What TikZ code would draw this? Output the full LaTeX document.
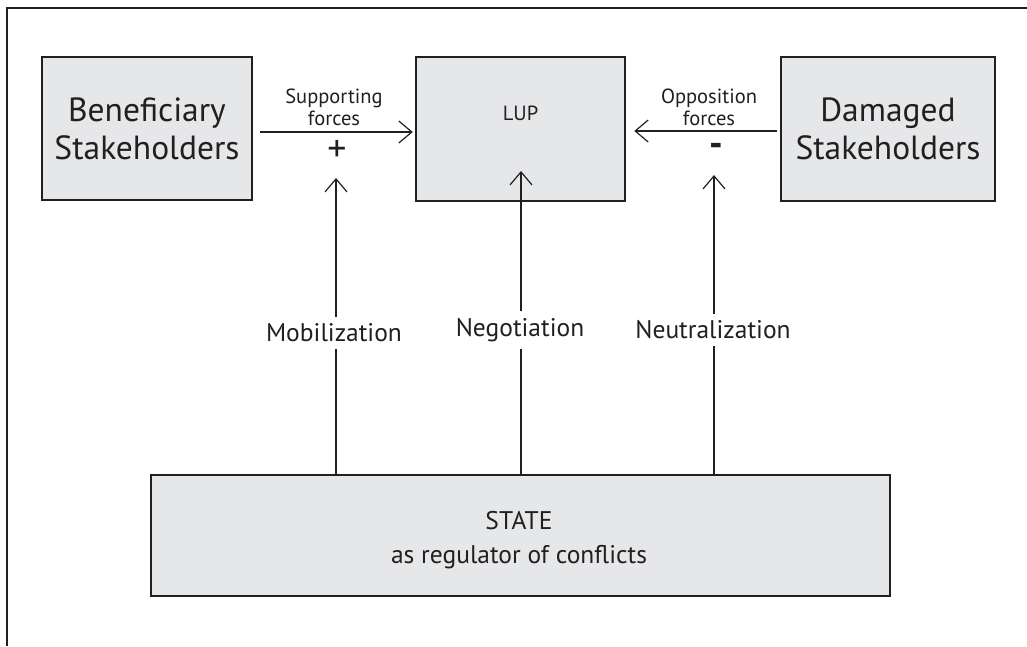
\documentclass[tikz,border=0pt]{standalone}
\usepackage{fontspec}
\setmainfont{PT Sans}
\usetikzlibrary{arrows.meta}
\definecolor{boxfill}{HTML}{E6E7E8}
\definecolor{ink}{HTML}{231F20}
\begin{document}
\begin{tikzpicture}[x=1pt,y=-1pt,
  box/.style={draw=ink, line width=2.5pt, fill=boxfill, inner sep=0pt, align=center},
  huge/.style={font=\fontsize{33.5}{38}\selectfont, text=ink, align=center},
  big/.style={font=\fontsize{25.5}{34}\selectfont, text=ink, align=center},
  small/.style={font=\fontsize{20.5}{22}\selectfont, text=ink, align=center},
  sign/.style={font=\fontsize{38}{38}\selectfont, text=ink},
  boldsign/.style={font=\fontsize{38}{38}\selectfont\bfseries, text=ink},
  arr/.style={draw=ink, line width=1.2pt, -{Straight Barb[length=13pt,width=22pt,line width=1.2pt]}},
  lbl/.style={big, fill=white, inner sep=7pt}]
\useasboundingbox (0,0) rectangle (1027,646);
\draw[ink, line width=2.5pt] (7,646) -- (7,8) -- (1027,8);

\node[box, huge, minimum width=210pt, minimum height=143pt] (ben) at (147,128.5) {Beneficiary\\Stakeholders};
\node[box, minimum width=209pt, minimum height=144pt] (lup) at (520.5,129) {};
\node[small] (luptxt) at (520.5,113) {LUP};
\node[box, huge, minimum width=214pt, minimum height=144pt] (dam) at (888,129) {Damaged\\Stakeholders};
\node[box, minimum width=739pt, minimum height=121pt] (state) at (520.5,535.5) {};
\node[big] (statetxt) at (519,540) {STATE\\as regulator of conflicts};

\node[small] (sup) at (334,107) {Supporting\\forces};
\node[sign] (plus) at (337,151) {+};
\node[small] (opp) at (709,107) {Opposition\\forces};
\node[boldsign] (minus) at (716,150) {-};

\draw[arr] ([shift={(7,3.5)}]ben.east) -- ([shift={(-2,3)}]lup.west);
\draw[arr] ([shift={(-3,2)}]dam.west) -- ([shift={(8,2)}]lup.east);

\coordinate (mtip) at (336,178);
\coordinate (ntip) at (521,171);
\coordinate (ztip) at (714,175);
\draw[arr] (state.north -| mtip) -- (mtip);
\draw[arr] (state.north -| ntip) -- (ntip);
\draw[arr] (state.north -| ztip) -- (ztip);

\node[lbl] (mob) at (334,333) {Mobilization};
\node[lbl] (neg) at (520,330) {Negotiation};
\node[lbl] (neu) at (713,330) {Neutralization};
\end{tikzpicture}
\end{document}
